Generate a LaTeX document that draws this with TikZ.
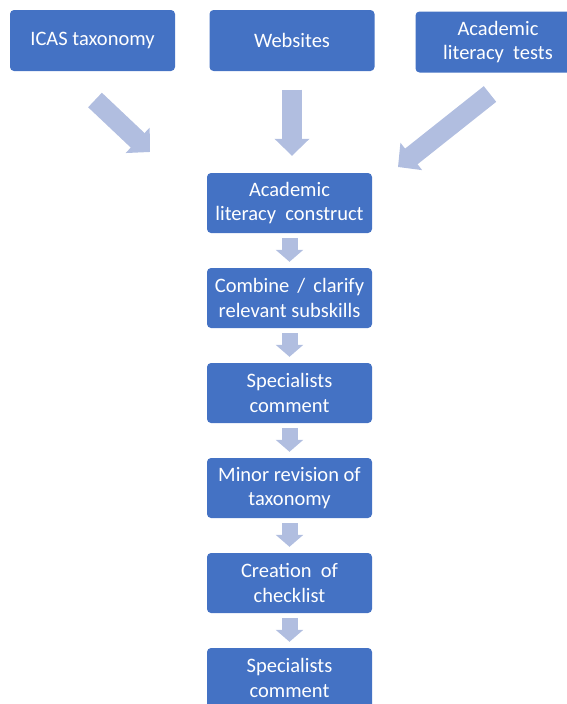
\documentclass[tikz,border=0pt]{standalone}
\usepackage{fontspec}
\setmainfont{Carlito}
\usetikzlibrary{arrows.meta}
\definecolor{boxblue}{HTML}{4472C4}
\definecolor{arrowblue}{HTML}{B1BEE0}
\tikzset{
	box/.style={fill=boxblue, rounded corners=4pt, minimum width=165pt, minimum height=60pt, inner sep=0pt, text=white, align=center, font=\fontsize{20.5}{24.5}\selectfont},
	bigarrow/.style={draw=arrowblue, line width=20pt, -{Triangle[width=34pt,length=17pt]}},
	smallarrow/.style={draw=arrowblue, line width=16pt, -{Triangle[width=27pt,length=12pt]}}
}
\begin{document}
\begin{tikzpicture}[x=1pt, y=-1pt]
				\useasboundingbox (0, 0) rectangle (567, 704);
				\clip (0, 0) rectangle (567, 704);
				
				\node[box, minimum height=61pt] (icas) at (92.5, 40.5) {ICAS taxonomy};
				\node[box, minimum height=61pt] (web) at (292, 40.5) {Websites};
				\node[box, minimum height=61pt] (tests) at (498, 42) {Academic\\literacy~ tests};
				
				\node[box] (construct) at (289.5, 203) {Academic\\literacy~ construct};
				\node[box] (combine) at (289.5, 298) {Combine\, /\, clarify\\relevant subskills};
				\node[box] (comment1) at (289.5, 393) {Specialists\\comment};
				\node[box] (revision) at (289.5, 488) {Minor revision of\\taxonomy};
				\node[box] (checklist) at (289.5, 583) {Creation~ of\\checklist};
				\node[box] (comment2) at (289.5, 678) {Specialists\\comment};
				
				\coordinate (icasout) at (95, 100);
				\coordinate (icasin) at (150, 152);
				\coordinate (testsout) at (490, 94);
				\coordinate (testsin) at (398, 167);
				
				\draw[bigarrow] (icasout) -- (icasin);
				\draw[bigarrow, shorten <=18.5pt, shorten >=17pt] (web.south) -- (web.south |- construct.north);
				\draw[bigarrow] (testsout) -- (testsin);
				
				\draw[smallarrow, shorten <=5pt, shorten >=6pt] (construct) -- (combine);
				\draw[smallarrow, shorten <=5pt, shorten >=6pt] (combine) -- (comment1);
				\draw[smallarrow, shorten <=5pt, shorten >=6pt] (comment1) -- (revision);
				\draw[smallarrow, shorten <=5pt, shorten >=6pt] (revision) -- (checklist);
				\draw[smallarrow, shorten <=5pt, shorten >=6pt] (checklist) -- (comment2);
\end{tikzpicture}
\end{document}
